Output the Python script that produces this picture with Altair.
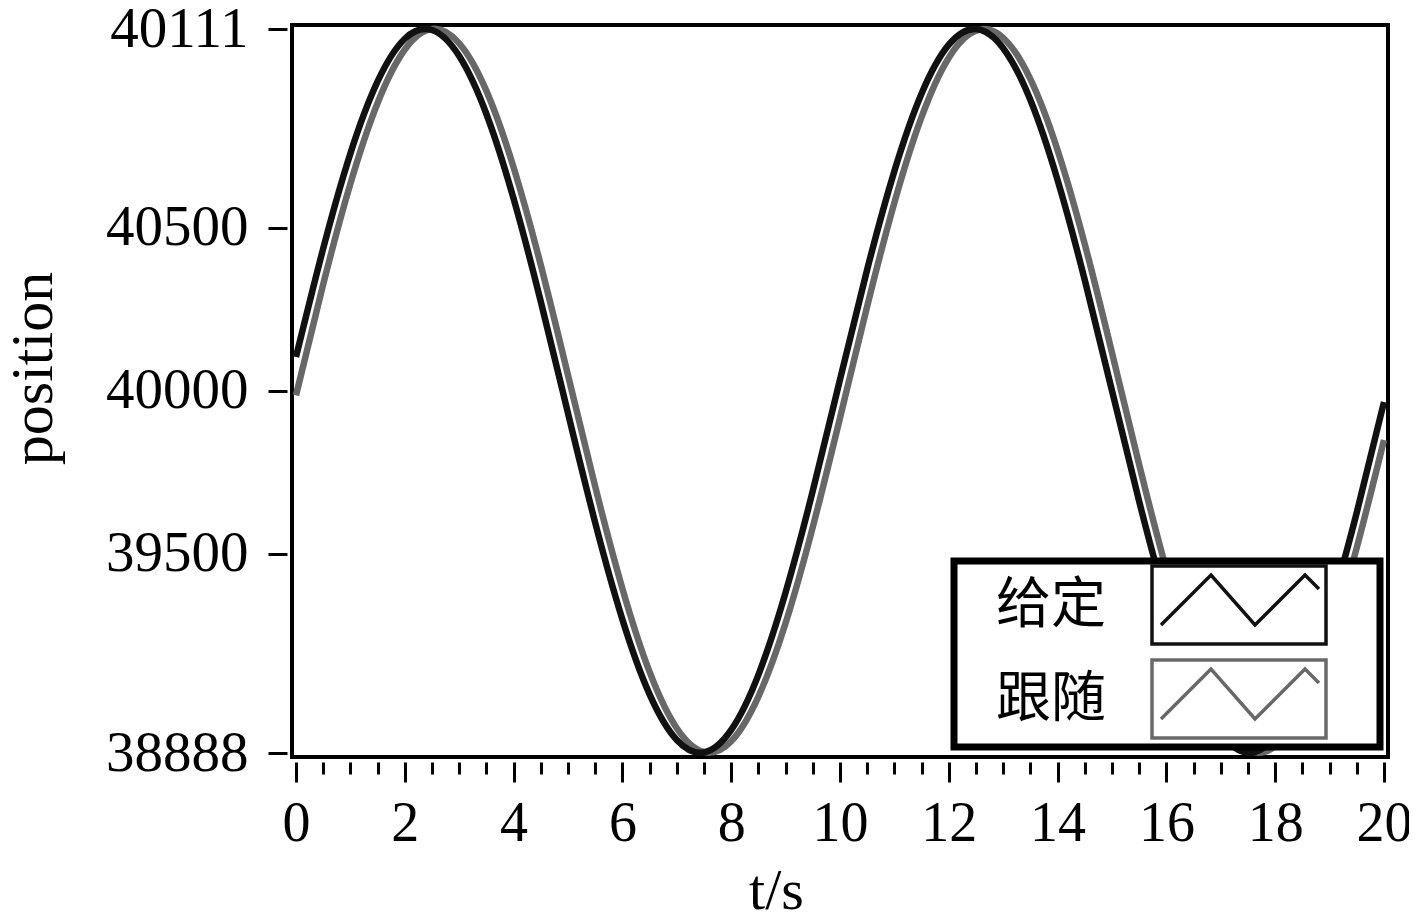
import altair as alt
import pandas as pd

# time samples (s)
t_s = [0.0, 0.5, 1.0, 1.5, 2.0, 2.5, 3.0, 3.5, 4.0, 4.5,
       5.0, 5.5, 6.0, 6.5, 7.0, 7.5, 8.0, 8.5, 9.0, 9.5,
       10.0, 10.5, 11.0, 11.5, 12.0, 12.5, 13.0, 13.5, 14.0, 14.5,
       15.0, 15.5, 16.0, 16.5, 17.0, 17.5, 18.0, 18.5, 19.0, 19.5, 20.0]

# 给定 (command) position
given = [40104, 40437, 40729, 40950, 41081, 41108, 41028, 40850, 40590, 40274,
         39931, 39595, 39298, 39068, 38928, 38890, 38959, 39128, 39381, 39693,
         40035, 40373, 40675, 40913, 41063, 41111, 41052, 40893, 40647, 40340,
         40000, 39660, 39352, 39107, 38948, 38889, 38937, 39087, 39325, 39627,
         39966]

# 跟随 (following) position
follow = [39986, 40327, 40636, 40884, 41048, 41111, 41067, 40921, 40686, 40386,
          40048, 39706, 39393, 39137, 38964, 38891, 38924, 39061, 39287, 39582,
          39917, 40260, 40578, 40841, 41023, 41106, 41084, 40957, 40739, 40450,
          40117, 39773, 39451, 39182, 38991, 38897, 38909, 39026, 39236, 39519,
          39849]

series_names = ["给定", "跟随"]
series_colors = ["#111111", "#686868"]

y_tick_values = [38888, 39500, 40000, 40500, 41111]
y_tick_labels = ["38888", "39500", "40000", "40500", "40111"]
x_domain = [0, 20]
y_domain = [38888, 41111]

rows = []
for name, vals in zip(series_names, [given, follow]):
    for t, v in zip(t_s, vals):
        rows.append({"t": t, "position": v, "series": name})
df = pd.DataFrame(rows)

y_label_expr = " : ".join(
    f"datum.value == {v} ? '{l}'" for v, l in zip(y_tick_values, y_tick_labels)
) + " : datum.label"

SERIF = "Liberation Serif"

# legend sample: a box with a zig-zag inside (unit = sqrt(symbolSize)/2 px)
legend_path = (
    "M-2.175,-0.975H2.175V0.975H-2.175Z"
    "M-1.95,0.5L-0.7,-0.75L0.4,0.5L1.65,-0.75L2.0,-0.4"
    "M-7.075,0L-7.075,0M3.3,0L3.3,0"
)

x_enc = alt.X(
    "t:Q",
    scale=alt.Scale(domain=x_domain, nice=False, zero=False, padding=4),
    axis=alt.Axis(
        values=t_s,
        tickCount=len(t_s),
        labelExpr="datum.value % 2 === 0 ? '' + datum.value : ''",
        title="t/s",
        tickSize={"condition": {"test": "datum.value % 2 === 0", "value": 20}, "value": 12},
        tickWidth=3, tickColor="black",
        domain=False, grid=False, offset=5,
        labelPadding=14, labelFont=SERIF, labelFontSize=56, labelColor="black",
        labelOverlap=False, labelFlush=False,
        titleFont=SERIF, titleFontSize=58, titleFontWeight="normal", titleColor="black",
        titleX=484, titleY=146, titleBaseline="alphabetic", titleAlign="center",
    ),
)

y_enc = alt.Y(
    "position:Q",
    scale=alt.Scale(domain=y_domain, nice=False, zero=False, padding=4),
    axis=alt.Axis(
        values=y_tick_values,
        labelExpr=y_label_expr,
        title="position",
        tickSize=19, tickWidth=3, tickColor="black",
        domain=False, grid=False, offset=5,
        labelPadding=20, labelFont=SERIF, labelFontSize=57, labelColor="black",
        labelOverlap=False, labelFlush=False,
        titleFont=SERIF, titleFontSize=60, titleFontWeight="normal", titleColor="black",
        titleX=-236, titleY=343, titleAngle=-90, titleBaseline="alphabetic",
        titleAlign="center",
    ),
)

color_enc = alt.Color(
    "series:N",
    scale=alt.Scale(domain=series_names, range=series_colors),
    legend=alt.Legend(
        title=None, orient="none", legendX=662, legendY=536,
        symbolType=legend_path, symbolSize=6400, symbolStrokeWidth=3.5,
        symbolFillColor="transparent",
        labelFont="Noto Sans CJK SC", labelFontSize=55, labelColor="black",
        labelAlign="left", labelBaseline="middle", labelOffset={"expr": "-285"},
        symbolOffset=241, rowPadding=2, padding=2,
        strokeColor="black", fillColor="white",
    ),
)

base = alt.Chart(df).mark_line(strokeWidth=6.5, clip=True, interpolate="natural").encode(
    x=x_enc, y=y_enc, color=color_enc, detail="series:N"
)

layer_follow = base.transform_filter(alt.datum.series == series_names[1])
layer_given = base.transform_filter(alt.datum.series == series_names[0])

chart = alt.layer(layer_follow, layer_given).properties(
    width=1096, height=732,
    background="white",
    autosize=alt.AutoSizeParams(type="none"),
    padding={"left": 284, "top": 17, "right": 21, "bottom": 190},
).configure_view(
    stroke="black", strokeWidth=4
).configure_legend(
    strokeWidth=7
)

chart.save("out.html", embed_options={"renderer": "svg", "actions": False})
